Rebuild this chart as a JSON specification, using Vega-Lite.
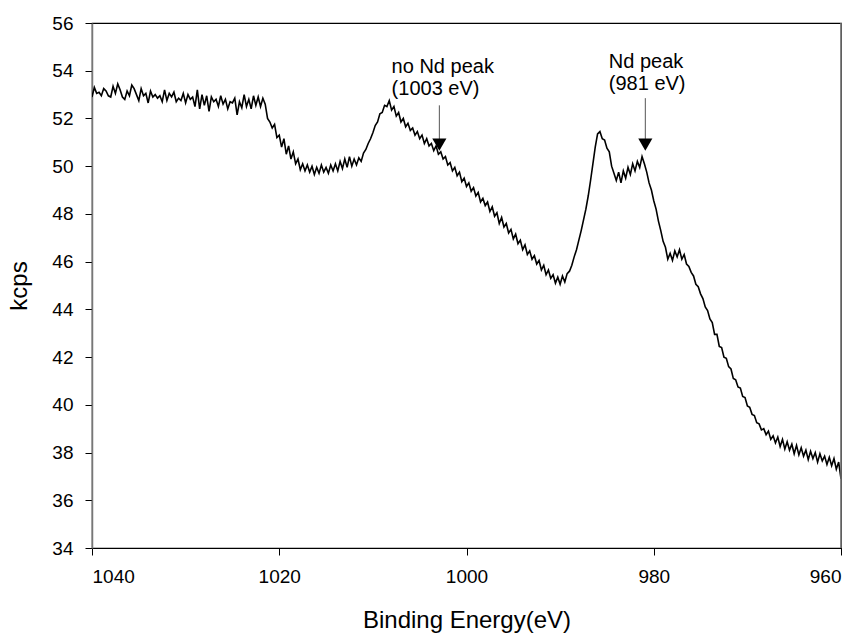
{
"$schema": "https://vega.github.io/schema/vega-lite/v6.json",
"width": 749, "height": 525,
"autosize": {"type": "none"},
"padding": {"left": 92, "top": 23, "right": 21, "bottom": 88},
"background": "white",
"config": {
  "view": {"stroke": "#000", "strokeWidth": 1.2},
  "font": "Arial, Liberation Sans, sans-serif",
  "axis": {"grid": false, "labelFont": "Arial, Liberation Sans, sans-serif", "titleFont": "Arial, Liberation Sans, sans-serif", "labelColor": "#000", "titleColor": "#000", "tickColor": "#000", "domainColor": "#000", "tickSize": 7, "labelFontSize": 19, "titleFontSize": 24, "titleFontWeight": "normal"}
},
"datasets": {
"spectrum": [
{"e":1040.00,"k":52.9},{"e":1039.75,"k":53.3},{"e":1039.50,"k":53.05},{"e":1039.25,"k":53.1},{"e":1039.00,"k":52.95},{"e":1038.75,"k":53.25},{"e":1038.50,"k":53.15},{"e":1038.25,"k":52.95},
{"e":1038.00,"k":52.9},{"e":1037.75,"k":53.35},{"e":1037.50,"k":53.05},{"e":1037.25,"k":53.45},{"e":1037.00,"k":53.2},{"e":1036.75,"k":52.9},{"e":1036.50,"k":52.8},{"e":1036.25,"k":53.15},
{"e":1036.00,"k":52.95},{"e":1035.75,"k":53.4},{"e":1035.50,"k":53.25},{"e":1035.25,"k":53.0},{"e":1035.00,"k":52.75},{"e":1034.75,"k":53.25},{"e":1034.50,"k":52.95},{"e":1034.25,"k":53.05},
{"e":1034.00,"k":52.65},{"e":1033.75,"k":53.15},{"e":1033.50,"k":52.9},{"e":1033.25,"k":53.0},{"e":1033.00,"k":52.85},{"e":1032.75,"k":52.95},{"e":1032.50,"k":52.7},{"e":1032.25,"k":53.2},
{"e":1032.00,"k":52.75},{"e":1031.75,"k":53.05},{"e":1031.50,"k":52.9},{"e":1031.25,"k":53.1},{"e":1031.00,"k":52.7},{"e":1030.75,"k":52.85},{"e":1030.50,"k":52.75},{"e":1030.25,"k":53.05},
{"e":1030.00,"k":52.65},{"e":1029.75,"k":53.0},{"e":1029.50,"k":52.8},{"e":1029.25,"k":52.9},{"e":1029.00,"k":52.5},{"e":1028.75,"k":53.2},{"e":1028.50,"k":52.4},{"e":1028.25,"k":53.0},
{"e":1028.00,"k":52.55},{"e":1027.75,"k":52.95},{"e":1027.50,"k":52.3},{"e":1027.25,"k":52.9},{"e":1027.00,"k":52.7},{"e":1026.75,"k":52.8},{"e":1026.50,"k":52.5},{"e":1026.25,"k":52.95},
{"e":1026.00,"k":52.6},{"e":1025.75,"k":52.8},{"e":1025.50,"k":52.4},{"e":1025.25,"k":52.7},{"e":1025.00,"k":52.65},{"e":1024.75,"k":52.85},{"e":1024.50,"k":52.15},{"e":1024.25,"k":52.7},
{"e":1024.00,"k":52.45},{"e":1023.75,"k":53.0},{"e":1023.50,"k":52.5},{"e":1023.25,"k":52.8},{"e":1023.00,"k":52.4},{"e":1022.75,"k":52.95},{"e":1022.50,"k":52.55},{"e":1022.25,"k":52.9},
{"e":1022.00,"k":52.5},{"e":1021.75,"k":52.85},{"e":1021.50,"k":52.6},{"e":1021.25,"k":52.0},{"e":1021.00,"k":51.85},{"e":1020.75,"k":51.6},{"e":1020.50,"k":51.75},{"e":1020.25,"k":51.2},
{"e":1020.00,"k":51.3},{"e":1019.75,"k":50.8},{"e":1019.50,"k":51.15},{"e":1019.25,"k":50.5},{"e":1019.00,"k":50.85},{"e":1018.75,"k":50.3},{"e":1018.50,"k":50.6},{"e":1018.25,"k":50.1},
{"e":1018.00,"k":50.3},{"e":1017.75,"k":49.85},{"e":1017.50,"k":50.1},{"e":1017.25,"k":49.8},{"e":1017.00,"k":50.05},{"e":1016.75,"k":49.75},{"e":1016.50,"k":50.0},{"e":1016.25,"k":49.65},
{"e":1016.00,"k":49.95},{"e":1015.75,"k":49.7},{"e":1015.50,"k":50.05},{"e":1015.25,"k":49.75},{"e":1015.00,"k":49.95},{"e":1014.75,"k":49.7},{"e":1014.50,"k":50.05},{"e":1014.25,"k":49.8},
{"e":1014.00,"k":50.1},{"e":1013.75,"k":49.8},{"e":1013.50,"k":50.2},{"e":1013.25,"k":49.9},{"e":1013.00,"k":50.3},{"e":1012.75,"k":49.95},{"e":1012.50,"k":50.4},{"e":1012.25,"k":50.0},
{"e":1012.00,"k":50.3},{"e":1011.75,"k":50.05},{"e":1011.50,"k":50.35},{"e":1011.25,"k":50.2},{"e":1011.00,"k":50.55},{"e":1010.75,"k":50.7},{"e":1010.50,"k":50.95},{"e":1010.25,"k":51.15},
{"e":1010.00,"k":51.4},{"e":1009.75,"k":51.7},{"e":1009.50,"k":51.85},{"e":1009.25,"k":52.2},{"e":1009.00,"k":52.25},{"e":1008.75,"k":52.55},{"e":1008.50,"k":52.5},{"e":1008.25,"k":52.75},
{"e":1008.00,"k":52.35},{"e":1007.75,"k":52.5},{"e":1007.50,"k":52.1},{"e":1007.25,"k":52.25},{"e":1007.00,"k":51.85},{"e":1006.75,"k":52.0},{"e":1006.50,"k":51.65},{"e":1006.25,"k":51.8},
{"e":1006.00,"k":51.5},{"e":1005.75,"k":51.6},{"e":1005.50,"k":51.3},{"e":1005.25,"k":51.45},{"e":1005.00,"k":51.15},{"e":1004.75,"k":51.3},{"e":1004.50,"k":50.95},{"e":1004.25,"k":51.15},
{"e":1004.00,"k":50.85},{"e":1003.75,"k":50.95},{"e":1003.50,"k":50.65},{"e":1003.25,"k":50.85},{"e":1003.00,"k":50.5},{"e":1002.75,"k":50.6},{"e":1002.50,"k":50.3},{"e":1002.25,"k":50.4},
{"e":1002.00,"k":50.05},{"e":1001.75,"k":50.15},{"e":1001.50,"k":49.8},{"e":1001.25,"k":49.95},{"e":1001.00,"k":49.6},{"e":1000.75,"k":49.75},{"e":1000.50,"k":49.35},{"e":1000.25,"k":49.5},
{"e":1000.00,"k":49.15},{"e":999.75,"k":49.3},{"e":999.50,"k":48.95},{"e":999.25,"k":49.1},{"e":999.00,"k":48.75},{"e":998.75,"k":48.9},{"e":998.50,"k":48.5},{"e":998.25,"k":48.65},
{"e":998.00,"k":48.35},{"e":997.75,"k":48.5},{"e":997.50,"k":48.1},{"e":997.25,"k":48.3},{"e":997.00,"k":47.9},{"e":996.75,"k":48.05},{"e":996.50,"k":47.6},{"e":996.25,"k":47.85},
{"e":996.00,"k":47.45},{"e":995.75,"k":47.6},{"e":995.50,"k":47.2},{"e":995.25,"k":47.35},{"e":995.00,"k":46.95},{"e":994.75,"k":47.15},{"e":994.50,"k":46.75},{"e":994.25,"k":46.9},
{"e":994.00,"k":46.5},{"e":993.75,"k":46.7},{"e":993.50,"k":46.3},{"e":993.25,"k":46.45},{"e":993.00,"k":46.1},{"e":992.75,"k":46.25},{"e":992.50,"k":45.9},{"e":992.25,"k":46.05},
{"e":992.00,"k":45.65},{"e":991.75,"k":45.85},{"e":991.50,"k":45.45},{"e":991.25,"k":45.65},{"e":991.00,"k":45.3},{"e":990.75,"k":45.45},{"e":990.50,"k":45.1},{"e":990.25,"k":45.35},
{"e":990.00,"k":45.05},{"e":989.75,"k":45.4},{"e":989.50,"k":45.15},{"e":989.25,"k":45.5},{"e":989.00,"k":45.6},{"e":988.75,"k":45.85},{"e":988.50,"k":46.2},{"e":988.25,"k":46.5},
{"e":988.00,"k":46.9},{"e":987.75,"k":47.3},{"e":987.50,"k":47.75},{"e":987.25,"k":48.2},{"e":987.00,"k":48.75},{"e":986.75,"k":49.4},{"e":986.50,"k":50.1},{"e":986.25,"k":50.8},
{"e":986.00,"k":51.35},{"e":985.75,"k":51.45},{"e":985.50,"k":51.15},{"e":985.25,"k":51.1},{"e":985.00,"k":50.75},{"e":984.75,"k":50.6},{"e":984.50,"k":50.0},{"e":984.25,"k":49.7},
{"e":984.00,"k":49.4},{"e":983.75,"k":49.75},{"e":983.50,"k":49.3},{"e":983.25,"k":49.8},{"e":983.00,"k":49.5},{"e":982.75,"k":49.95},{"e":982.50,"k":49.65},{"e":982.25,"k":50.1},
{"e":982.00,"k":49.8},{"e":981.75,"k":50.2},{"e":981.50,"k":49.95},{"e":981.25,"k":50.4},{"e":981.00,"k":50.1},{"e":980.75,"k":49.75},{"e":980.50,"k":49.3},{"e":980.25,"k":49.0},
{"e":980.00,"k":48.55},{"e":979.75,"k":48.2},{"e":979.50,"k":47.7},{"e":979.25,"k":47.3},{"e":979.00,"k":46.85},{"e":978.75,"k":46.6},{"e":978.50,"k":46.1},{"e":978.25,"k":46.35},
{"e":978.00,"k":46.05},{"e":977.75,"k":46.45},{"e":977.50,"k":46.2},{"e":977.25,"k":46.5},{"e":977.00,"k":46.1},{"e":976.75,"k":46.3},{"e":976.50,"k":45.9},{"e":976.25,"k":45.8},
{"e":976.00,"k":45.55},{"e":975.75,"k":45.4},{"e":975.50,"k":45.05},{"e":975.25,"k":44.95},{"e":975.00,"k":44.65},{"e":974.75,"k":44.45},{"e":974.50,"k":44.1},{"e":974.25,"k":43.95},
{"e":974.00,"k":43.6},{"e":973.75,"k":43.45},{"e":973.50,"k":42.95},{"e":973.25,"k":42.95},{"e":973.00,"k":42.45},{"e":972.75,"k":42.4},{"e":972.50,"k":42.0},{"e":972.25,"k":41.95},
{"e":972.00,"k":41.6},{"e":971.75,"k":41.5},{"e":971.50,"k":41.1},{"e":971.25,"k":41.05},{"e":971.00,"k":40.75},{"e":970.75,"k":40.7},{"e":970.50,"k":40.35},{"e":970.25,"k":40.3},
{"e":970.00,"k":39.95},{"e":969.75,"k":39.9},{"e":969.50,"k":39.6},{"e":969.25,"k":39.55},{"e":969.00,"k":39.25},{"e":968.75,"k":39.2},{"e":968.50,"k":38.95},{"e":968.25,"k":39.0},
{"e":968.00,"k":38.75},{"e":967.75,"k":38.9},{"e":967.50,"k":38.55},{"e":967.25,"k":38.7},{"e":967.00,"k":38.4},{"e":966.75,"k":38.65},{"e":966.50,"k":38.25},{"e":966.25,"k":38.55},
{"e":966.00,"k":38.15},{"e":965.75,"k":38.45},{"e":965.50,"k":38.1},{"e":965.25,"k":38.35},{"e":965.00,"k":37.95},{"e":964.75,"k":38.3},{"e":964.50,"k":37.9},{"e":964.25,"k":38.2},
{"e":964.00,"k":37.85},{"e":963.75,"k":38.1},{"e":963.50,"k":37.7},{"e":963.25,"k":38.05},{"e":963.00,"k":37.75},{"e":962.75,"k":38.0},{"e":962.50,"k":37.6},{"e":962.25,"k":37.95},
{"e":962.00,"k":37.65},{"e":961.75,"k":37.85},{"e":961.50,"k":37.5},{"e":961.25,"k":37.8},{"e":961.00,"k":37.45},{"e":960.75,"k":37.75},{"e":960.50,"k":37.3},{"e":960.25,"k":37.6},
{"e":960.00,"k":36.9}
],
"labels": [
{"e":1008.0,"k":53.9,"label":"no Nd peak"},
{"e":1008.0,"k":52.98,"label":"(1003 eV)"},
{"e":984.8,"k":54.1,"label":"Nd peak"},
{"e":984.8,"k":53.18,"label":"(981 eV)"}
],
"arrows": [
{"e":1002.9,"k1":52.55,"k2":51.0,"tip":50.9},
{"e":980.9,"k1":52.85,"k2":51.0,"tip":50.9}
],
"frame": [{"e":960}]
},
"layer": [
{
 "data": {"name": "spectrum"},
 "mark": {"type": "line", "color": "#000", "strokeWidth": 1.6, "clip": true},
 "encoding": {
  "x": {"field": "e", "type": "quantitative", "title": "Binding Energy(eV)",
        "scale": {"domain": [960, 1040], "reverse": true, "nice": false, "zero": false},
        "axis": {"values": [1040, 1020, 1000, 980, 960], "labelPadding": 12, "titlePadding": 22, "format": "d"}},
  "y": {"field": "k", "type": "quantitative", "title": "kcps",
        "scale": {"domain": [34, 56], "nice": false, "zero": false},
        "axis": {"values": [34,36,38,40,42,44,46,48,50,52,54,56], "labelPadding": 12, "titlePadding": 20, "domainColor": "#777", "domainWidth": 1.5}}
 }
},
{
 "data": {"name": "labels"},
 "mark": {"type": "text", "align": "left", "baseline": "alphabetic", "fontSize": 20, "color": "#000", "font": "Arial, Liberation Sans, sans-serif"},
 "encoding": {
  "x": {"field": "e", "type": "quantitative"},
  "y": {"field": "k", "type": "quantitative"},
  "text": {"field": "label"}
 }
},
{
 "data": {"name": "arrows"},
 "mark": {"type": "rule", "color": "#555", "strokeWidth": 1},
 "encoding": {
  "x": {"field": "e", "type": "quantitative"},
  "y": {"field": "k1", "type": "quantitative"},
  "y2": {"field": "k2"}
 }
},
{
 "data": {"name": "arrows"},
 "mark": {"type": "point", "shape": "triangle-down", "filled": true, "color": "#000", "size": 200, "opacity": 1},
 "encoding": {
  "x": {"field": "e", "type": "quantitative"},
  "y": {"field": "tip", "type": "quantitative"}
 }
},
{
 "data": {"name": "frame"},
 "mark": {"type": "rule", "color": "#777", "strokeWidth": 1.5},
 "encoding": {
  "x": {"field": "e", "type": "quantitative"}
 }
}
]
}
